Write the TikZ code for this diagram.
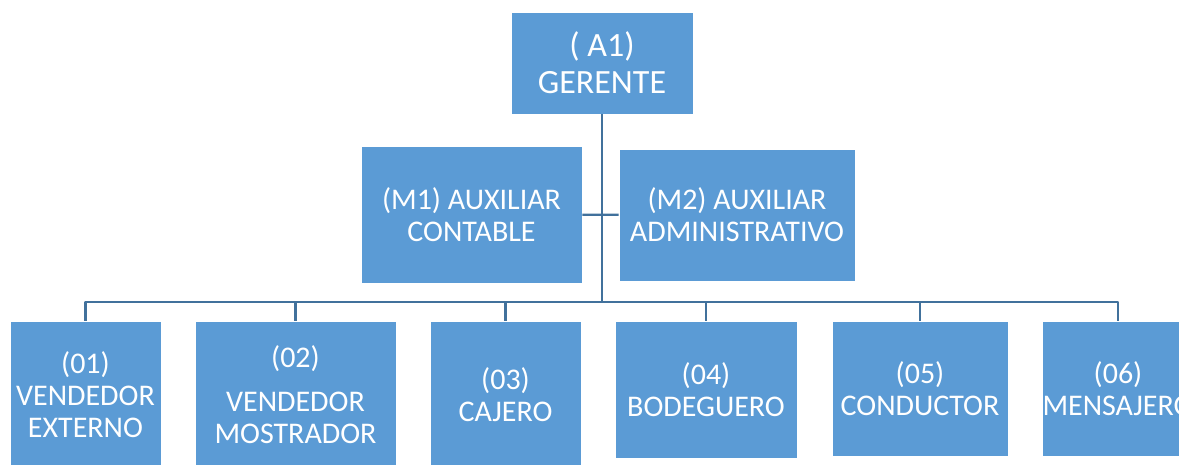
\documentclass[tikz,border=0pt]{standalone}
\usepackage{fontspec}
\setmainfont{Carlito}
\definecolor{cajaazul}{HTML}{5B9BD5}
\definecolor{lineaazul}{HTML}{41719C}
\begin{document}
\begin{tikzpicture}[x=1pt,y=-1pt, line join=round,
  caja/.style={rectangle, fill=cajaazul, draw=white, line width=.6pt, text=white,
    align=center, inner sep=0pt, font=\fontsize{30}{32}\selectfont},
  linea/.style={draw=lineaazul, line width=2.2pt}]
\useasboundingbox (0,0) rectangle (1179,464);
% gerente y auxiliares
\node[caja, minimum width=182, minimum height=102, font=\fontsize{34}{37}\selectfont] (a1) at (602,63) {( A1)\\GERENTE};
\node[caja, minimum width=221, minimum height=137] (m1) at (471.5,214.5) {(M1) AUXILIAR\\CONTABLE};
\node[caja, minimum width=236, minimum height=132] (m2) at (737,215) {(M2) AUXILIAR\\ADMINISTRATIVO};
% cargos operativos
\node[caja, minimum width=151, minimum height=148] (p01) at (85.5,395) {(01)\\VENDEDOR\\EXTERNO};
\node[caja, minimum width=201, minimum height=148] (p02) at (295.5,395) {(02)\\[12pt]VENDEDOR\\MOSTRADOR};
\node[caja, minimum width=151, minimum height=148] (p03) at (505.5,395) {(03)\\CAJERO};
\node[caja, minimum width=182, minimum height=137] (p04) at (706,389.5) {(04)\\BODEGUERO};
\node[caja, minimum width=176, minimum height=135] (p05) at (920,388.5) {(05)\\CONDUCTOR};
\node[caja, minimum width=150, minimum height=135] (p06) at (1118,388.5) {(06)\\MENSAJERO};
\coordinate (bus) at (602,302);
\draw[linea] (a1.south) -- (bus);
\draw[linea] (m1) -- (m2);
\foreach \n in {01,02,03,04,05,06}
  \draw[linea] (p\n.north) |- (bus);
\end{tikzpicture}
\end{document}
